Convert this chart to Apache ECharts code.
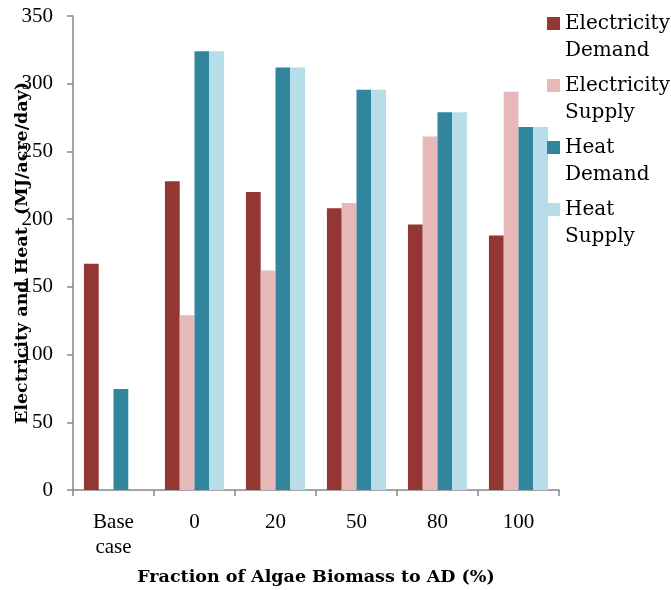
<!DOCTYPE html>
<html><head><meta charset="utf-8">
<script src="https://cdn.jsdelivr.net/npm/echarts@6/dist/echarts.min.js"></script>
<style>html,body{margin:0;padding:0;background:#fff}#c{width:671px;height:590px}</style>
</head><body><div id="c"></div>
<script>
const categories = ['Base\ncase', '0', '20', '50', '80', '100'];
const electricityDemand = [167, 228, 220, 208, 196, 188];
const electricitySupply = [null, 129, 162, 212, 261, 294];
const heatDemand = [74.5, 324, 312, 295.5, 279, 268];
const heatSupply = [null, 324, 312, 295.5, 279, 268];
const seriesNames = ['Electricity\nDemand', 'Electricity\nSupply', 'Heat\nDemand', 'Heat\nSupply'];
const colors = ['#943634', '#E6B9B8', '#31859C', '#B7DEE8'];
const yTicks = {min: 0, max: 350, interval: 50};

const FONT = '"Liberation Serif", serif';
const FONT2 = '"DejaVu Serif", serif';
const iconPath = 'path://M0,7h13v13h-13z M0,0h0.01v0.01h-0.01z M0,54h0.01v0.01h-0.01z';
const chart = echarts.init(document.getElementById('c'), null, {renderer: 'canvas'});
const dataSets = [electricityDemand, electricitySupply, heatDemand, heatSupply];
chart.setOption({
  animation: false,
  backgroundColor: '#fff',
  textStyle: {fontFamily: FONT},
  grid: {left: 73, right: 112, top: 16, bottom: 100, containLabel: false, outerBoundsMode: 'none'},
  legend: {
    orient: 'vertical', left: 547, top: 10, padding: 0,
    itemWidth: 13, itemHeight: 54, itemGap: 8,
    icon: iconPath,
    textStyle: {fontFamily: FONT2, fontSize: 20, color: '#000', lineHeight: 27},
    data: seriesNames.map((n) => ({name: n, icon: iconPath}))
  },
  xAxis: {
    type: 'category', data: categories,
    axisLine: {lineStyle: {color: '#868686', width: 1.5}},
    axisTick: {show: true, length: 6, lineStyle: {color: '#868686', width: 1.5}},
    axisLabel: {fontFamily: FONT, fontSize: 21, color: '#000', margin: 20, lineHeight: 25},
    name: 'Fraction of Algae Biomass to AD (%)', nameLocation: 'middle', nameGap: 78,
    nameMoveOverlap: false,
    nameTextStyle: {fontFamily: FONT2, fontSize: 17.5, fontWeight: 'bold', color: '#000'}
  },
  yAxis: {
    type: 'value', min: yTicks.min, max: yTicks.max, interval: yTicks.interval,
    axisLine: {show: true, lineStyle: {color: '#868686', width: 1.5}},
    axisTick: {show: true, length: 6, lineStyle: {color: '#868686', width: 1.5}},
    splitLine: {show: false},
    axisLabel: {fontFamily: FONT, fontSize: 21, color: '#000', margin: 20},
    name: 'Electricity and Heat  (MJ/acre/day)', nameLocation: 'middle', nameGap: 42,
    nameMoveOverlap: false,
    nameTextStyle: {fontFamily: FONT2, fontSize: 17.5, fontWeight: 'bold', color: '#000'}
  },
  series: seriesNames.map((n, i) => ({
    name: n, type: 'bar', data: dataSets[i],
    itemStyle: {color: colors[i]},
    barGap: '0%', barCategoryGap: '27%'
  }))
});
</script></body></html>
